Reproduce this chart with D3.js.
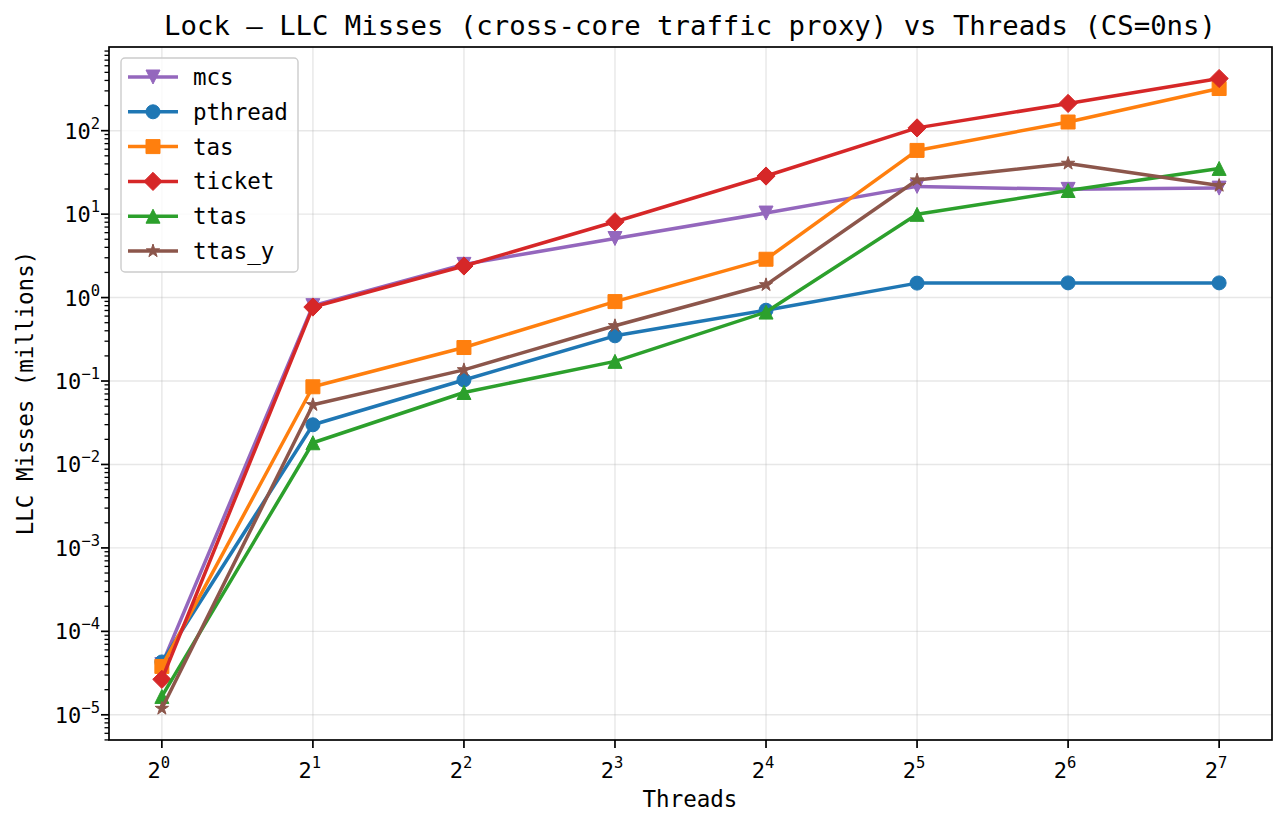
<!DOCTYPE html>
<html><head><meta charset="utf-8">
<script src="https://cdn.jsdelivr.net/npm/d3@7"></script>
<style>body{margin:0;background:#fff}svg{display:block}text{font-family:"DejaVu Sans Mono",monospace;fill:#000}</style>
</head><body><svg id="c" width="1286" height="826"></svg>
<script>
const threads = [1, 2, 4, 8, 16, 32, 64, 128];
const xTickExps = [0, 1, 2, 3, 4, 5, 6, 7];
const yTickExps = [-5, -4, -3, -2, -1, 0, 1, 2];
const seriesNames = ["mcs", "pthread", "tas", "ticket", "ttas", "ttas_y"];
const mcs     = [4.0e-5, 0.80, 2.5, 5.1, 10.3, 21.5, 19.8, 20.5];
const pthread = [4.3e-5, 0.0299, 0.103, 0.348, 0.706, 1.49, 1.50, 1.50];
const tas     = [3.8e-5, 0.0853, 0.252, 0.895, 2.88, 58, 127, 320];
const ticket  = [2.66e-5, 0.77, 2.39, 8.1, 28.6, 108, 212, 422];
const ttas    = [1.66e-5, 0.0182, 0.0729, 0.172, 0.67, 9.94, 19.2, 35.3];
const ttas_y  = [1.19e-5, 0.0519, 0.136, 0.459, 1.42, 25.6, 40.5, 22.0];
const seriesValues = [mcs, pthread, tas, ticket, ttas, ttas_y];
const colors = ["#9467bd", "#1f77b4", "#ff7f0e", "#d62728", "#2ca02c", "#8c564b"];
const markers = ["v", "o", "s", "D", "^", "*"];
const titleText = "Lock — LLC Misses (cross-core traffic proxy) vs Threads (CS=0ns)";

const L = 109, R = 1272, T = 47, B = 740;
const svg = d3.select("#c");

// domains with 5% log margins (like matplotlib)
const all = seriesValues.flat();
const lmin = Math.log10(d3.min(all)), lmax = Math.log10(d3.max(all));
const pad = (lmax - lmin) * 0.05;
const y = d3.scaleLog().domain([Math.pow(10, lmin - pad), Math.pow(10, lmax + pad)]).range([B, T]);
const xl0 = Math.log2(threads[0]), xl1 = Math.log2(threads[threads.length - 1]);
const xpad = (xl1 - xl0) * 0.05;
const x = d3.scaleLog().base(2).domain([Math.pow(2, xl0 - xpad), Math.pow(2, xl1 + xpad)]).range([L, R]);

// grid
const g = svg.append("g");
xTickExps.forEach(e => {
  g.append("line").attr("x1", x(2 ** e)).attr("x2", x(2 ** e)).attr("y1", T).attr("y2", B)
    .attr("stroke", "#b0b0b0").attr("stroke-opacity", 0.3).attr("stroke-width", 1.4);
});
yTickExps.forEach(e => {
  g.append("line").attr("x1", L).attr("x2", R).attr("y1", y(10 ** e)).attr("y2", y(10 ** e))
    .attr("stroke", "#b0b0b0").attr("stroke-opacity", 0.3).attr("stroke-width", 1.4);
});

// marker path
function markerPath(m, s) {
  const h = s / 2;
  if (m === "o") return `M${h},0A${h},${h} 0 1,1 ${-h},0A${h},${h} 0 1,1 ${h},0Z`;
  if (m === "s") return `M${-h},${-h}H${h}V${h}H${-h}Z`;
  if (m === "D") { const d = h * 1.3; return `M0,${-d}L${d},0L0,${d}L${-d},0Z`; }
  if (m === "^") return `M0,${-h}L${h},${h}L${-h},${h}Z`;
  if (m === "v") return `M0,${h}L${h},${-h}L${-h},${-h}Z`;
  if (m === "*") {
    let p = "";
    const ro = h * 1.0, ri = ro * 0.381966;
    for (let i = 0; i < 10; i++) {
      const r = i % 2 === 0 ? ro : ri;
      const a = -Math.PI / 2 + i * Math.PI / 5;
      p += (i === 0 ? "M" : "L") + (r * Math.cos(a)).toFixed(2) + "," + (r * Math.sin(a)).toFixed(2);
    }
    return p + "Z";
  }
}
const MS = 14;
const LW = 3.5;

const plot = svg.append("g");
const line = d3.line().x((d, i) => x(threads[i])).y(d => y(d));
seriesValues.forEach((vals, si) => {
  const gs = plot.append("g");
  gs.append("path").attr("d", line(vals)).attr("fill", "none").attr("stroke", colors[si])
    .attr("stroke-width", LW).attr("stroke-linejoin", "round").attr("stroke-linecap", "butt");
  gs.selectAll("path.m").data(vals).enter().append("path").attr("class", "m")
    .attr("d", markerPath(markers[si], MS))
    .attr("transform", (d, i) => `translate(${x(threads[i])},${y(d)})`)
    .attr("fill", colors[si]).attr("stroke", colors[si]).attr("stroke-width", 1);
});

// spines
svg.append("rect").attr("x", L).attr("y", T).attr("width", R - L).attr("height", B - T)
  .attr("fill", "none").attr("stroke", "#000").attr("stroke-width", 1.7);

// x ticks
xTickExps.forEach(e => {
  const xx = x(2 ** e);
  svg.append("line").attr("x1", xx).attr("x2", xx).attr("y1", B).attr("y2", B + 8).attr("stroke", "#000").attr("stroke-width", 1.7);
  const t = svg.append("text").attr("x", xx - 3).attr("y", 778).attr("text-anchor", "middle").style("font-size", "22px");
  t.append("tspan").text("2");
  t.append("tspan").attr("dy", -10).style("font-size", "15.5px").text(String(e));
});
// y ticks
yTickExps.forEach(e => {
  const yy = y(10 ** e);
  svg.append("line").attr("x1", L - 8).attr("x2", L).attr("y1", yy).attr("y2", yy).attr("stroke", "#000").attr("stroke-width", 1.7);
  const t = svg.append("text").attr("x", 100).attr("y", yy + 8).attr("text-anchor", "end").style("font-size", "22px");
  t.append("tspan").text("10");
  t.append("tspan").attr("dy", -10).style("font-size", "15.5px").text(e < 0 ? "−" + (-e) : String(e));
});
// y minor ticks
const [d0, d1] = y.domain();
for (let e = Math.floor(Math.log10(d0)); e <= Math.ceil(Math.log10(d1)); e++) {
  for (let k = 2; k <= 9; k++) {
    const v = k * 10 ** e;
    if (v < d0 || v > d1) continue;
    const yy = y(v);
    svg.append("line").attr("x1", L - 4.5).attr("x2", L).attr("y1", yy).attr("y2", yy).attr("stroke", "#000").attr("stroke-width", 1.3);
  }
}

// labels
svg.append("text").attr("x", 690).attr("y", 35).attr("text-anchor", "middle").style("font-size", "27.3px").text(titleText);
svg.append("text").attr("x", 690).attr("y", 807).attr("text-anchor", "middle").style("font-size", "22.5px").text("Threads");
svg.append("text").attr("transform", "translate(33,393) rotate(-90)").attr("text-anchor", "middle").style("font-size", "22.5px").text("LLC Misses (millions)");

// legend
const lg = svg.append("g");
lg.append("rect").attr("x", 121).attr("y", 58).attr("width", 177).attr("height", 214).attr("rx", 4)
  .attr("fill", "#fff").attr("fill-opacity", 0.8).attr("stroke", "#cccccc").attr("stroke-width", 1.4);
seriesNames.forEach((n, i) => {
  const yy = 77 + i * 34.8;
  lg.append("line").attr("x1", 128).attr("x2", 178).attr("y1", yy).attr("y2", yy).attr("stroke", colors[i]).attr("stroke-width", LW);
  lg.append("path").attr("d", markerPath(markers[i], MS)).attr("transform", `translate(153,${yy})`).attr("fill", colors[i]).attr("stroke", colors[i]);
  lg.append("text").attr("x", 193).attr("y", yy + 8).style("font-size", "22.5px").text(n);
});
</script></body></html>
